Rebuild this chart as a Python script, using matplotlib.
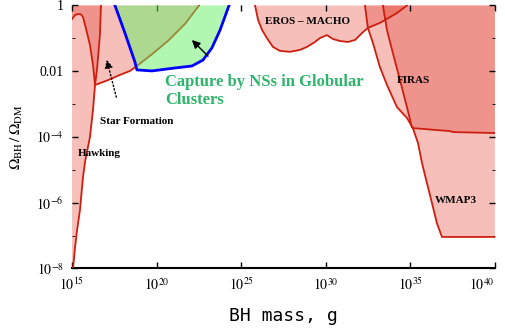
import numpy as np
import matplotlib
matplotlib.use('Agg')
import matplotlib.pyplot as plt
from matplotlib.ticker import FixedLocator, NullLocator, NullFormatter

plt.rcParams['font.family'] = ['Liberation Serif', 'DejaVu Serif']
plt.rcParams['mathtext.fontset'] = 'stix'

###------------------------- data (log10 of mass in g, log10 of Omega_BH/Omega_DM) -------------------###
# Hawking evaporation boundary, bottom -> top
hawk_logM  = [15.06, 15.18, 15.30, 15.47, 15.65, 15.77, 16.06, 16.24, 16.36, 16.48, 16.65, 16.71]
hawk_logO  = [-8.00, -7.35, -6.83, -6.22, -5.22, -4.76, -4.00, -3.18, -2.42, -1.93, -0.90, 0.00]

# star formation boundary, left -> right (the part under the green patch shows brown)
sf_logM = [15.00, 15.18, 15.35, 15.53, 15.65, 15.83, 16.06, 16.24, 16.36, 17.13, 17.84, 18.43, 18.84,
           19.73, 20.67, 21.68, 22.51]
sf_logO = [-0.41, -0.29, -0.26, -0.27, -0.35, -0.71, -1.20, -1.81, -2.42, -2.27, -2.11, -1.99, -1.84,
           -1.48, -1.08, -0.56, 0.00]

# capture by neutron stars in globular clusters
ns_logM = [17.54, 18.13, 18.72, 18.84, 19.73, 21.09, 22.09, 22.74, 23.27, 23.75, 24.28]
ns_logO = [0.00, -0.84, -1.72, -1.96, -1.99, -1.90, -1.84, -1.66, -1.29, -0.75, 0.00]

# EROS - MACHO microlensing
eros_logM = [25.82, 26.00, 26.23, 26.52, 26.88, 27.29, 27.88, 28.48, 28.89, 29.36, 29.66, 30.07,
             30.43, 30.84, 31.31, 31.73, 32.14, 32.49, 33.20, 34.21, 34.80]
eros_logO = [0.00, -0.44, -0.74, -0.99, -1.26, -1.38, -1.41, -1.35, -1.26, -1.11, -0.99, -0.90,
             -1.02, -1.08, -1.11, -1.05, -0.84, -0.68, -0.53, -0.23, 0.00]

# WMAP3
wmap_logM = [32.32, 32.49, 32.79, 33.20, 33.62, 34.21, 34.80, 35.15, 35.45, 35.69, 35.98, 36.28,
             36.57, 36.87, 40.00]
wmap_logO = [0.00, -0.68, -1.14, -1.87, -2.42, -3.09, -3.42, -3.73, -4.18, -4.79, -5.40, -6.01,
             -6.62, -7.04, -7.04]

# FIRAS
firas_logM = [33.38, 33.62, 33.97, 34.39, 34.80, 35.09, 35.15, 37.34, 37.52, 40.00]
firas_logO = [0.00, -0.75, -1.45, -2.27, -3.09, -3.70, -3.73, -3.82, -3.85, -3.88]

xticks = [15, 20, 25, 30, 35, 40]
yticks = [0, -2, -4, -6, -8]
ytick_labels = ['1', '0.01', r'$10^{-4}$', r'$10^{-6}$', r'$10^{-8}$']

# arrows: (tail, head) in log units
ns_arrow = [(23.16, -1.60), (21.97, -0.99)]
sf_arrow = [(17.66, -2.87), (17.01, -1.57)]

###------------------------- style --------------------------------------###
pink   = (227/255, 58/255, 43/255)
a_pink = 0.32
red    = '#cc1f10'
green  = (101/255, 241/255, 101/255)
txt_green = '#2fb56b'

def p(v):
    return 10.0**np.asarray(v)

fig = plt.figure(figsize=(5.05, 3.33), dpi=100)
ax = fig.add_axes([0.1426, 0.1937, 0.8374, 0.7898])

###------------------------- regions --------------------------------------###
# Hawking: everything left of the curve
ax.fill(p([15] + hawk_logM + [15]), p([-8] + hawk_logO + [0]), color=pink, alpha=a_pink, lw=0)
# star formation: everything above its boundary
ax.fill(p(sf_logM + [15]), p(sf_logO + [0]), color=pink, alpha=a_pink, lw=0)
ax.fill(p(eros_logM), p(eros_logO), color=pink, alpha=a_pink, lw=0)
ax.fill(p(wmap_logM + [40]), p(wmap_logO + [0]), color=pink, alpha=a_pink, lw=0)
ax.fill(p(firas_logM + [40]), p(firas_logO + [0]), color=pink, alpha=a_pink, lw=0)

for lm, lo in [(hawk_logM, hawk_logO), (sf_logM, sf_logO), (eros_logM, eros_logO),
               (wmap_logM, wmap_logO), (firas_logM, firas_logO)]:
    ax.plot(p(lm), p(lo), color=red, lw=1.3, zorder=3)

# NS capture on top, semi transparent so the star formation line shows through
ax.fill(p(ns_logM), p(ns_logO), color=green, alpha=0.5, lw=0, zorder=4)
ax.plot(p(ns_logM), p(ns_logO), color='#0000ff', lw=2.0, zorder=5)

###------------------------- labels --------------------------------------###
ax.annotate('', xy=p(ns_arrow[1]), xytext=p(ns_arrow[0]),
            arrowprops=dict(arrowstyle='-|>', color='k', lw=1.0, mutation_scale=12), zorder=6)
ax.annotate('', xy=p(sf_arrow[1]), xytext=p(sf_arrow[0]),
            arrowprops=dict(arrowstyle='-|>', color='k', lw=1.0, ls=':', mutation_scale=12), zorder=6)

ax.text(p(26.41), p(-0.50), 'EROS – MACHO', fontsize=8, fontweight='bold', va='center', zorder=7)
ax.text(p(34.21), p(-2.27), 'FIRAS', fontsize=8, fontweight='bold', va='center', zorder=7)
ax.text(p(36.45), p(-5.92), 'WMAP3', fontsize=8, fontweight='bold', va='center', zorder=7)
ax.text(p(16.65), p(-3.54), 'Star Formation', fontsize=8, fontweight='bold', va='center', zorder=7)
ax.text(p(15.35), p(-4.49), 'Hawking', fontsize=8, fontweight='bold', va='center', zorder=7)
ax.text(p(20.50), p(-2.60), 'Capture by NSs in Globular\nClusters', fontsize=12, fontweight='bold',
        color=txt_green, va='center', linespacing=1.1, zorder=7)

###------------------------- axes --------------------------------------###
ax.set_xscale('log')
ax.set_yscale('log')
ax.set_xlim(1e15, 1e40)
ax.set_ylim(1e-8, 1)

ax.xaxis.set_major_locator(FixedLocator(p(xticks)))
ax.xaxis.set_minor_locator(NullLocator())
ax.set_xticklabels([r'$10^{%d}$' % t for t in xticks])
ax.get_xticklabels()[-1].set_horizontalalignment('right')
ax.yaxis.set_major_locator(FixedLocator(p(yticks)))
ax.yaxis.set_minor_locator(FixedLocator(p([-1, -3, -5, -7])))
ax.yaxis.set_minor_formatter(NullFormatter())
ax.set_yticklabels(ytick_labels)

ax.tick_params(which='both', direction='in', top=True, right=True, labelsize=10, pad=6)
ax.tick_params(which='major', length=4, width=1)
ax.tick_params(which='minor', length=2)
for s in ['left', 'top', 'right']:
    ax.spines[s].set_visible(False)
ax.spines['bottom'].set_linewidth(1.5)

ax.set_xlabel('BH mass, g', family='DejaVu Sans Mono', fontsize=13, labelpad=10)
ax.set_ylabel(r'$\Omega_{\rm BH}\,/\,\Omega_{\rm DM}$', fontsize=11, labelpad=8)

fig.savefig('out.png', dpi=100)
